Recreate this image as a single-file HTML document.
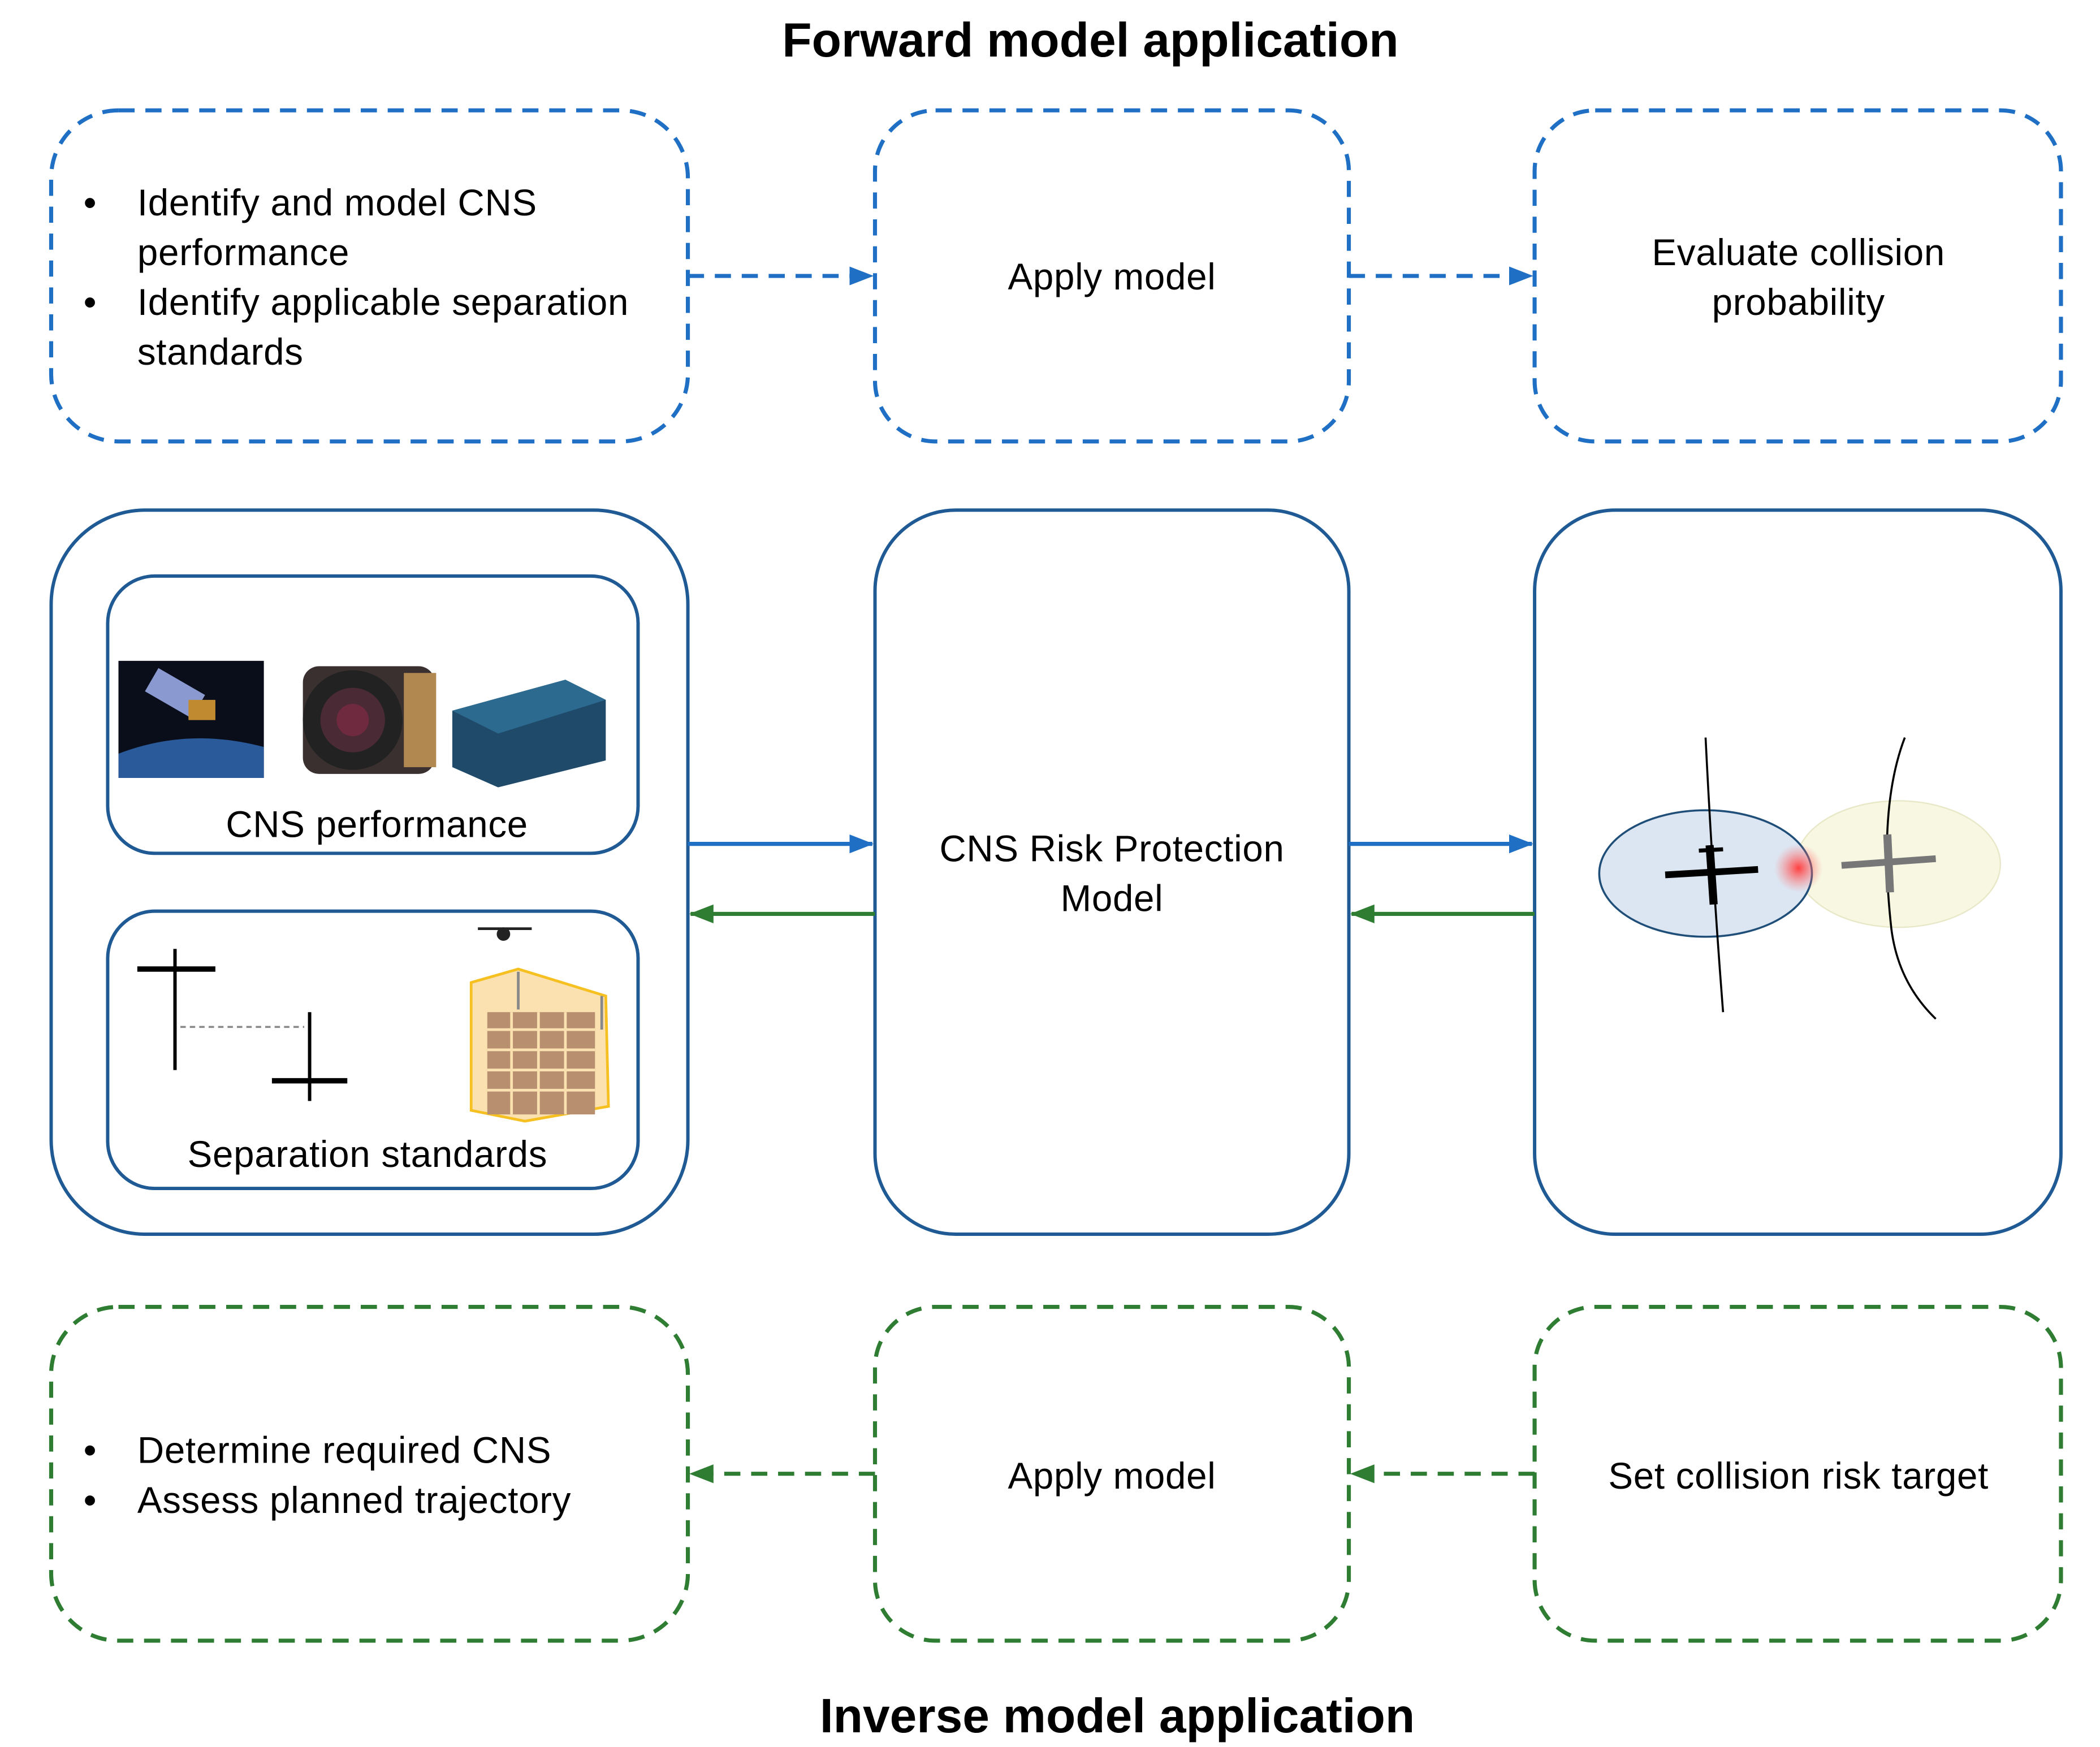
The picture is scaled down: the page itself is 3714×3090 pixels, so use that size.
<!DOCTYPE html>
<html><head><meta charset="utf-8"><style>
html,body{margin:0;padding:0;background:#fff;}
svg{display:block;}
text{font-family:"Liberation Sans",sans-serif;fill:#000;}
</style></head><body>
<svg width="3714" height="3090" viewBox="0 0 1560 1298" preserveAspectRatio="none" xmlns="http://www.w3.org/2000/svg">
<defs>
<marker id="ab" markerWidth="18" markerHeight="14" refX="17" refY="7" orient="auto" markerUnits="userSpaceOnUse"><path d="M0,0 L18,7 L0,14 Z" fill="#1f6fc5"/></marker>
<marker id="ag" markerWidth="18" markerHeight="14" refX="17" refY="7" orient="auto" markerUnits="userSpaceOnUse"><path d="M0,0 L18,7 L0,14 Z" fill="#2e7d32"/></marker>
<radialGradient id="glow"><stop offset="0" stop-color="#ff4040"/><stop offset="1" stop-color="#ff8080" stop-opacity="0"/></radialGradient>
</defs>

<text x="810" y="42" font-size="36" font-weight="bold" text-anchor="middle">Forward model application</text>
<text x="830" y="1287" font-size="36" font-weight="bold" text-anchor="middle">Inverse model application</text>

<g fill="none" stroke="#1f6fc5" stroke-width="3" stroke-dasharray="12,8">
<rect x="38" y="82" width="473" height="246" rx="50"/>
<rect x="650" y="82" width="352" height="246" rx="45"/>
<rect x="1140" y="82" width="391" height="246" rx="45"/>
<line x1="511" y1="205" x2="648" y2="205" marker-end="url(#ab)"/>
<line x1="1002" y1="205" x2="1138" y2="205" marker-end="url(#ab)"/>
</g>
<g font-size="27.5" letter-spacing="0.3">
<text x="62" y="160">•</text><text x="102" y="160">Identify and model CNS</text>
<text x="102" y="197">performance</text>
<text x="62" y="234">•</text><text x="102" y="234">Identify applicable separation</text>
<text x="102" y="271">standards</text>
<text x="826" y="215" text-anchor="middle">Apply model</text>
<text x="1336" y="197" text-anchor="middle">Evaluate collision</text>
<text x="1336" y="234" text-anchor="middle">probability</text>
</g>

<g fill="none" stroke="#1f5a94" stroke-width="2.5">
<rect x="38" y="379" width="473" height="538" rx="70"/>
<rect x="80" y="428" width="394" height="206" rx="35"/>
<rect x="80" y="677" width="394" height="206" rx="35"/>
<rect x="650" y="379" width="352" height="538" rx="60"/>
<rect x="1140" y="379" width="391" height="538" rx="60"/>
</g>
<g stroke-width="3" fill="none">
<line x1="511" y1="627" x2="648" y2="627" stroke="#1f6fc5" marker-end="url(#ab)"/>
<line x1="1002" y1="627" x2="1138" y2="627" stroke="#1f6fc5" marker-end="url(#ab)"/>
<line x1="650" y1="679" x2="513" y2="679" stroke="#2e7d32" marker-end="url(#ag)"/>
<line x1="1140" y1="679" x2="1004" y2="679" stroke="#2e7d32" marker-end="url(#ag)"/>
</g>
<g font-size="27.5" letter-spacing="0.3">
<text x="280" y="622" text-anchor="middle">CNS performance</text>
<text x="273" y="867" text-anchor="middle">Separation standards</text>
<text x="826" y="640" text-anchor="middle">CNS Risk Protection</text>
<text x="826" y="677" text-anchor="middle">Model</text>
</g>

<rect x="88" y="491" width="108" height="87" fill="#0a0e1a"/>
<path d="M88,560 Q140,540 196,555 L196,578 L88,578Z" fill="#2a5a9a"/>
<rect x="110" y="505" width="40" height="20" fill="#8a9ad0" transform="rotate(30 130 515)"/>
<rect x="140" y="520" width="20" height="15" fill="#c08a30"/>
<rect x="225" y="495" width="98" height="80" rx="12" fill="#3a3030"/>
<rect x="300" y="500" width="24" height="70" fill="#b08850"/>
<circle cx="262" cy="535" r="37" fill="#222"/>
<circle cx="262" cy="535" r="24" fill="#4a2a35"/>
<circle cx="262" cy="535" r="12" fill="#702a40"/>
<path d="M336,528 L420,505 L450,520 L450,565 L370,585 L336,570Z" fill="#1f4a6a"/>
<path d="M336,528 L420,505 L450,520 L370,545Z" fill="#2c6a90"/>

<g stroke="#000" stroke-width="2.5" fill="none">
<line x1="130" y1="705" x2="130" y2="795"/><line x1="102" y1="720" x2="160" y2="720" stroke-width="4"/>
<line x1="230" y1="752" x2="230" y2="818"/><line x1="202" y1="803" x2="258" y2="803" stroke-width="4"/>
</g>
<line x1="134" y1="763" x2="226" y2="763" stroke="#888" stroke-width="1.5" stroke-dasharray="4,3"/>
<path d="M350,730 L385,720 L450,740 L452,822 L390,833 L350,825Z" fill="#fbe0b0" stroke="#f5c020" stroke-width="2"/>
<rect x="362" y="752" width="80" height="76" fill="#b89070"/>
<g stroke="#fbe0b0" stroke-width="2"><line x1="362" y1="765" x2="442" y2="765"/><line x1="362" y1="780" x2="442" y2="780"/><line x1="362" y1="795" x2="442" y2="795"/><line x1="362" y1="810" x2="442" y2="810"/><line x1="380" y1="752" x2="380" y2="828"/><line x1="400" y1="752" x2="400" y2="828"/><line x1="420" y1="752" x2="420" y2="828"/></g>
<line x1="385" y1="722" x2="385" y2="750" stroke="#888" stroke-width="2"/>
<line x1="447" y1="740" x2="447" y2="765" stroke="#888" stroke-width="2"/>
<g stroke="#222" stroke-width="2"><line x1="355" y1="690" x2="395" y2="690"/><circle cx="374" cy="694" r="4" fill="#222"/></g>

<ellipse cx="1410" cy="642" rx="76" ry="47" fill="#f7f7e2" stroke="#e8e8c8"/>
<ellipse cx="1267" cy="649" rx="79" ry="47" fill="#dce6f2" stroke="#1f4e79" stroke-width="1.5"/>
<circle cx="1336" cy="645" r="18" fill="url(#glow)"/>
<g fill="none" stroke="#000" stroke-width="1.5">
<path d="M1267,548 Q1272,650 1280,752"/>
<path d="M1415,548 Q1395,600 1405,690 Q1410,730 1438,757"/>
</g>
<line x1="1237" y1="650" x2="1306" y2="646" stroke="#000" stroke-width="5"/>
<line x1="1270" y1="628" x2="1273" y2="672" stroke="#000" stroke-width="6"/>
<line x1="1262" y1="632" x2="1280" y2="631" stroke="#000" stroke-width="3"/>
<line x1="1368" y1="643" x2="1438" y2="638" stroke="#777" stroke-width="5"/>
<line x1="1402" y1="620" x2="1404" y2="663" stroke="#777" stroke-width="6"/>

<g fill="none" stroke="#2e7d32" stroke-width="3" stroke-dasharray="12,8">
<rect x="38" y="971" width="473" height="248" rx="50"/>
<rect x="650" y="971" width="352" height="248" rx="45"/>
<rect x="1140" y="971" width="391" height="248" rx="45"/>
<line x1="650" y1="1095" x2="513" y2="1095" marker-end="url(#ag)"/>
<line x1="1140" y1="1095" x2="1004" y2="1095" marker-end="url(#ag)"/>
</g>
<g font-size="27.5" letter-spacing="0.3">
<text x="62" y="1087">•</text><text x="102" y="1087">Determine required CNS</text>
<text x="62" y="1124">•</text><text x="102" y="1124">Assess planned trajectory</text>
<text x="826" y="1106" text-anchor="middle">Apply model</text>
<text x="1336" y="1106" text-anchor="middle">Set collision risk target</text>
</g>
</svg>
</body></html>
